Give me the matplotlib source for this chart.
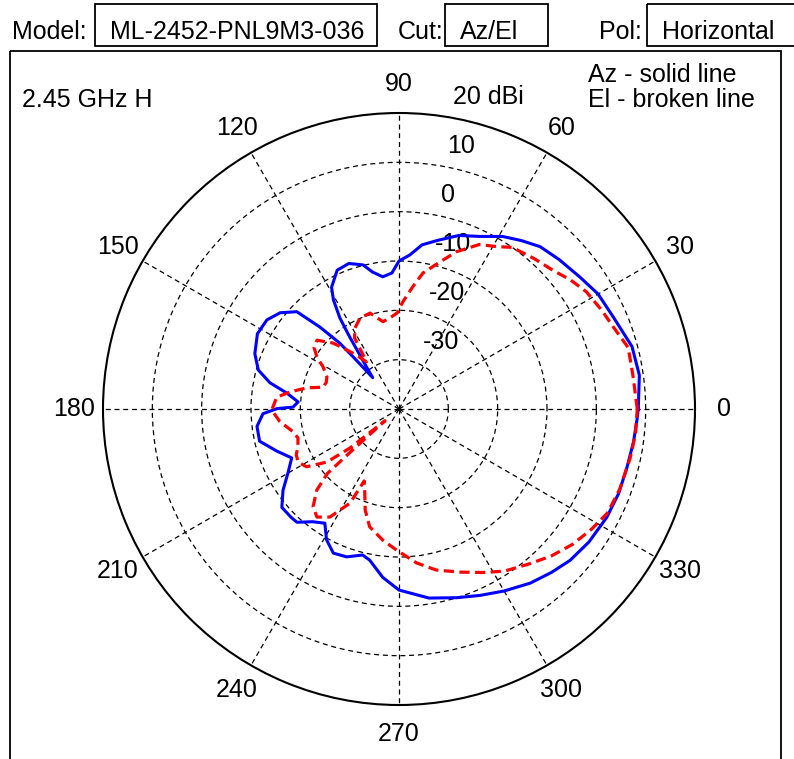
import numpy as np
import matplotlib
matplotlib.use("Agg")
import matplotlib.pyplot as plt
from matplotlib.patches import Rectangle

plt.rcParams['font.family'] = ['Liberation Sans', 'DejaVu Sans']

# ---------------------------------------
# data (dBi vs angle)
# ---------------------------------------
az_deg = [0, 8, 15, 23, 30, 36, 43, 49, 54, 59, 65, 71, 77, 82, 86, 90,
          93, 97, 101, 104, 109, 114, 119, 121, 123, 124.3, 125.5, 127.5,
          130, 131.3, 132, 134, 136.4, 141, 146, 152, 159, 164.5, 168.5,
          172, 176, 179, 179.8, 182, 187, 193, 199, 204.5, 210, 215, 220,
          225, 228, 232.5, 237, 241, 245.5, 250.5, 256, 259, 264.5, 270,
          279, 287, 293.5, 300, 307, 313, 318.5, 325, 332.5, 339, 345.5,
          352, 357.5, 360]
az_gain = [8.5, 9.2, 8.9, 7.3, 6.6, 5.4, 4.4, 3.6, 2.2, 0.8, -1.4, -2.8,
           -4.9, -6.4, -8.7, -10.0, -12.4, -13.0, -11.7, -9.9, -8.8, -9.2,
           -11.8, -14.2, -18.0, -22.0, -25.5, -29.0, -31.7, -26.0, -22.0,
           -16.9, -11.4, -9.0, -7.7, -7.5, -8.7, -10.4, -13.3, -17.1, -19.5,
           -18.5, -15.3, -12.4, -11.0, -11.0, -13.8, -16.1, -14.0, -11.3,
           -9.0, -9.0, -9.1, -11.2, -12.4, -9.7, -7.9, -8.2, -9.5, -8.8,
           -5.7, -3.3, -1.2, 0.0, 1.2, 2.6, 4.2, 5.3, 6.3, 7.0, 7.5, 7.7,
           7.7, 8.0, 8.3, 8.5]

el_deg = [0, 8, 15, 21, 26, 32, 37, 42, 48, 55, 59, 64, 70, 75, 80, 83.5,
          88, 91, 96, 100.4, 106.8, 113, 118.5, 122, 124.5, 128.5, 132.5,
          135, 140, 144, 147.6, 151, 156, 160, 164, 167, 171, 174.5, 180.5,
          186, 192, 196, 200.6, 204, 207.7, 212, 216.4, 218.5, 220, 221.5,
          222, 224.6, 228.7, 232.8, 237.4, 242.5, 244.2, 247, 249.5, 251.5,
          256, 263, 269, 276.5, 283, 290.5, 297, 303, 310, 316, 322, 328,
          333.4, 340, 348, 354, 360]
el_gain = [8.3, 7.9, 8.1, 6.5, 5.7, 4.8, 3.5, 2.0, 1.0, 0.0, -1.6, -2.9,
           -6.1, -9.4, -12.0, -15.0, -18.3, -20.5, -21.5, -22.0, -19.7,
           -19.9, -21.3, -23.0, -28.4, -26.0, -23.2, -21.1, -18.3, -18.7,
           -20.3, -22.4, -24.0, -24.3, -24.0, -20.9, -17.7, -15.1, -14.2,
           -15.7, -18.0, -18.7, -18.1, -17.2, -16.9, -17.9, -21.9, -27.3,
           -36.3, -27.0, -20.5, -16.6, -13.6, -12.5, -14.0, -18.5, -23.8,
           -22.2, -20.3, -18.4, -15.4, -13.2, -11.4, -8.6, -6.5, -4.7, -2.8,
           -0.8, 1.0, 2.9, 4.6, 6.0, 7.2, 7.6, 7.9, 8.2, 8.3]

ring_vals = [-30, -20, -10, 0, 10, 20]
ring_labels = ['-30', '-20', '-10', '0', '10', '20 dBi']
angle_ticks = list(range(0, 360, 30))

# ---------------------------------------
# figure
# ---------------------------------------
W, H = 794, 759
fig = plt.figure(figsize=(W / 100, H / 100), dpi=100)

# header / frame layer in pixel coords
bg = fig.add_axes([0, 0, 1, 1])
bg.set_xlim(0, W)
bg.set_ylim(H, 0)
bg.axis('off')

fs = 18
for (x0, x1) in [(95, 377), (445, 548), (647, 820)]:
    bg.add_patch(Rectangle((x0, 4), x1 - x0, 42, fill=False,
                           edgecolor='black', linewidth=1.3))
bg.add_patch(Rectangle((10, 51), 771, 760, fill=False,
                       edgecolor='black', linewidth=1.3))

bg.text(12, 39, "Model:", fontsize=fs, va='baseline')
bg.text(110, 39, "ML-2452-PNL9M3-036", fontsize=fs, va='baseline')
bg.text(398, 39, "Cut:", fontsize=fs, va='baseline')
bg.text(460, 39, "Az/El", fontsize=fs, va='baseline')
bg.text(599, 39, "Pol:", fontsize=fs, va='baseline')
bg.text(662, 39, "Horizontal", fontsize=fs, va='baseline')

bg.text(588, 82, "Az - solid line", fontsize=fs, va='baseline')
bg.text(588, 107, "El - broken line", fontsize=fs, va='baseline')
bg.text(22, 107, "2.45 GHz H", fontsize=fs, va='baseline')

# polar plot: center (399, 409), radius 296 px
cx, cy, R = 399, 409, 296
ax = fig.add_axes([(cx - R) / W, (H - cy - R) / H, 2 * R / W, 2 * R / H],
                  projection='polar')
ax.set_theta_zero_location('E')
ax.set_ylim(-40, 20)
ax.set_facecolor('none')

ax.set_rgrids(ring_vals[:-1], labels=[])
ax.set_thetagrids(angle_ticks, labels=[])
ax.grid(True, color='black', linestyle=(0, (4, 3)), linewidth=0.9)
ax.spines['polar'].set_linewidth(1.5)
ax.tick_params(length=0)

# angle labels outside the circle
for a in angle_ticks:
    ax.text(np.deg2rad(a), 25.8, str(a), fontsize=fs,
            ha='center', va='center', clip_on=False)

# ring labels
for v, lab in zip(ring_vals, ring_labels):
    ax.annotate(lab, xy=(np.deg2rad(83), v), xytext=(13, 13),
                textcoords='offset points', fontsize=fs,
                ha='left', va='center', zorder=1, annotation_clip=False)

ax.plot(np.deg2rad(az_deg), az_gain, color='#0000ff', linewidth=2.2,
        zorder=3)
ax.plot(np.deg2rad(el_deg), el_gain, color='#ff0000', linewidth=2.3,
        linestyle=(0, (3.2, 1.7)), zorder=4)

fig.savefig("out.png", dpi=100)
